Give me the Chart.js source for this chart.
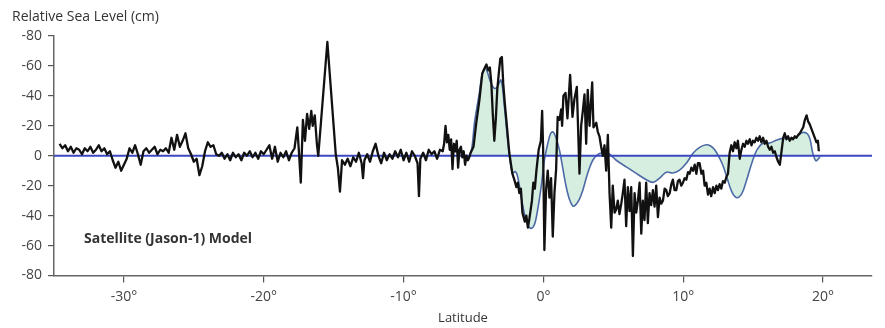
<!DOCTYPE html>
<html>
<head>
<meta charset="utf-8">
<script src="https://cdn.jsdelivr.net/npm/chart.js@4.4.1/dist/chart.umd.min.js"></script>
<style>
  html, body { margin: 0; padding: 0; background: #fff; }
  #wrap { width: 885px; height: 328px; }
</style>
</head>
<body>
<div id="wrap"><canvas id="chart" width="885" height="328"></canvas></div>
<script>
// Axis text
const yTitle = 'Relative Sea Level (cm)';
const xTitle = 'Latitude';
const modelLabel = 'Satellite (Jason-1) Model';
const xTicks = [-30, -20, -10, 0, 10, 20];

// Satellite (black) series: latitude and relative sea level (cm)
const satLat = [
  -34.6, -34.4, -34.2, -34.0, -33.8, -33.6, -33.4, -33.2, -33.0, -32.8, -32.6, -32.4, -32.2, -32.0,
  -31.8, -31.6, -31.4, -31.2, -31.0, -30.8, -30.6, -30.4, -30.2, -30.0, -29.8, -29.6, -29.4, -29.2,
  -29.0, -28.8, -28.6, -28.4, -28.2, -28.0, -27.8, -27.6, -27.4, -27.2, -27.0, -26.8, -26.6, -26.4,
  -26.2, -26.0, -25.8, -25.6, -25.4, -25.2, -25.0, -24.8, -24.6, -24.4, -24.2, -24.0, -23.8, -23.6,
  -23.4, -23.2, -23.0, -22.8, -22.6, -22.4, -22.2, -22.0, -21.8, -21.6, -21.4, -21.2, -21.0, -20.8,
  -20.6, -20.4, -20.2, -20.0, -19.8, -19.6, -19.4, -19.2, -19.0, -18.8, -18.6, -18.4, -18.2, -18.0,
  -17.8, -17.6, -17.5, -17.35, -17.2, -17.05, -16.9, -16.75, -16.6, -16.5, -16.35, -16.2, -16.1,
  -15.45, -14.85, -14.7, -14.55, -14.4, -14.2, -14.0, -13.8, -13.6, -13.4, -13.2, -13.0, -12.9,
  -12.8, -12.6, -12.4, -12.2, -12.0, -11.8, -11.6, -11.4, -11.2, -11.0, -10.8, -10.6, -10.4, -10.2,
  -10.0, -9.8, -9.6, -9.4, -9.2, -9.0, -8.9, -8.8, -8.6, -8.4, -8.2, -8.0, -7.8, -7.6, -7.4, -7.2,
  -7.1, -7.0, -6.9, -6.8, -6.7, -6.6, -6.5, -6.4, -6.3, -6.2, -6.1, -6.0, -5.9, -5.8, -5.7, -5.6,
  -5.5, -5.4, -5.3, -5.2, -5.0, -4.8, -4.58, -4.37, -4.23, -4.08, -3.94, -3.83, -3.72, -3.62, -3.51,
  -3.4, -3.3, -3.19, -3.08, -2.97, -2.87, -2.76, -2.65, -2.44, -2.22, -2.08, -1.93, -1.83, -1.72,
  -1.61, -1.5, -1.33, -1.22, -1.11, -1.0, -0.82, -0.72, -0.61, -0.5, -0.34, -0.18, -0.09, -0.02,
  0.07, 0.19, 0.31, 0.43, 0.55, 0.67, 0.79, 0.91, 1.02, 1.15, 1.27, 1.34, 1.43, 1.58, 1.72, 1.91,
  2.08, 2.22, 2.39, 2.58, 2.7, 2.82, 2.94, 3.06, 3.17, 3.3, 3.49, 3.58, 3.78, 3.89, 4.01, 4.13,
  4.25, 4.37, 4.49, 4.61, 4.73, 4.85, 4.96, 5.09, 5.2, 5.32, 5.44, 5.57, 5.68, 5.8, 5.92, 6.04,
  6.16, 6.28, 6.4, 6.52, 6.64, 6.76, 6.88, 7.0, 7.11, 7.23, 7.35, 7.47, 7.59, 7.71, 7.83, 7.95,
  8.07, 8.19, 8.31, 8.43, 8.55, 8.67, 8.79, 8.9, 9.03, 9.15, 9.26, 9.38, 9.5, 9.62, 9.74, 9.86,
  9.98, 10.1, 10.22, 10.34, 10.46, 10.58, 10.7, 10.82, 10.94, 11.05, 11.17, 11.3, 11.42, 11.53,
  11.65, 11.77, 11.89, 12.0, 12.13, 12.25, 12.37, 12.48, 12.6, 12.72, 12.84, 12.97, 13.09, 13.2,
  13.32, 13.44, 13.56, 13.68, 13.8, 13.91, 14.04, 14.16, 14.28, 14.4, 14.52, 14.63, 14.76, 14.88,
  14.99, 15.11, 15.23, 15.35, 15.47, 15.59, 15.71, 15.83, 15.95, 16.07, 16.19, 16.31, 16.43, 16.55,
  16.67, 16.79, 16.91, 17.03, 17.15, 17.26, 17.38, 17.5, 17.62, 17.74, 17.86, 17.98, 18.1, 18.22,
  18.34, 18.46, 18.58, 18.7, 18.82, 18.93, 19.05, 19.17, 19.29, 19.41, 19.53, 19.63, 19.7
];
const satLevel = [
  8, 5, 7, 3, 6, 2, 5, 4, 1, 5, 3, 6, 2, 4,
  7, 3, 5, 1, 3, -3, -8, -4, -10, -6, -2, 5, 2, 7,
  1, -6, 3, 5, 2, 4, 6, 1, 4, 3, 5, 2, 12, 4,
  14, 6, 10, 15, 5, 1, -4, -2, -13, -7, 3, 9, 6, 7,
  1, 0, 2, -2, 1, -3, 2, -1, 1, -3, 2, 0, 3, -1,
  2, -2, 3, 1, 4, 7, -2, 6, -4, 2, -1, 3, -3, 2,
  5, 19, 5, -18, 24, 10, 28, 18, 30, 20, 27, 8, 0,
  76, 1, -8, -24, -3, -6, -2, -7, -1, -4, 2, -5, -15,
  -3, 1, -4, 3, 8, 0, -5, 2, -3, 1, -2, 3, -1, 4,
  -3, 2, -4, 3, 0, -5, -27, -2, 2, -3, 4, 1, 3, -2, 4, 3,
  8, 20, 9, 14, 4, 11, -9, 8, 3, 10, -8, 4, 6, -1, 3, -6,
  0, -3, -1, 2, 6, 22, 37, 55, 58, 61, 57, 59, 48, 28, 10,
  25, 44, 55, 65, 66, 48, 35, 24, 2, -12, -16, -21, -18, -25,
  -22, -38, -44, -40, -48, -42, -30, -18, -22, -10, 4, 10, 30, 5,
  -63, -23, -10, -28, -15, -54, -25, -9, 26, 24, 31, 20, 40, 42, 25, 54,
  26, 38, 46, -12, 20, 30, 41, 8, 44, 20, 49, 19, 22, 16, 13, 6,
  0, 7, -10, 14, -25, -48, -20, -38, -36, -30, -39, -32, -25, -16, -47, -21,
  -37, -21, -67, -25, -38, -30, -18, -52, -30, -43, -18, -45, -25, -33, -23, -34,
  -20, -41, -28, -32, -30, -22, -23, -27, -25, -19, -16, -23, -23, -17, -16, -20,
  -18, -15, -16, -11, -12, -8, -10, -6, -12, -5, -5, -12, -10, -20,
  -18, -26, -22, -27, -21, -25, -20, -23, -19, -22, -17, -18, -14, -12,
  2, 7, 3, 9, 5, 10, -2, 4, 8, 6, 10, 8, 11, 7,
  10, 9, 12, 10, 13, 9, 12, 8, 10, 6, 4, 6, 2, 3,
  -1, -4, -6, 3, 12, 15, 11, 13, 10, 12, 11, 13, 12, 14,
  15, 17, 19, 24, 27, 23, 21, 18, 15, 12, 9, 10, 3
];

// Model (blue curve, green fill) series
const modelLat = [
  -5.3, -5.12, -4.94, -4.76, -4.58, -4.37, -4.15, -4.01, -3.75, -3.51, -3.3, -3.03, -2.79, -2.56,
  -2.39, -2.2, -2.01, -1.84, -1.6, -1.36, -1.12, -0.88, -0.64, -0.41, -0.16, 0.07, 0.31, 0.5,
  0.67, 0.86, 1.15, 1.38, 1.63, 1.86, 2.1, 2.29, 2.58, 2.82, 3.06, 3.3, 3.53, 3.78, 4.01, 4.37,
  4.73, 5.21, 5.92, 6.64, 7.36, 7.83, 8.31, 8.79, 9.26, 9.74, 10.22, 10.7, 11.17, 11.65, 11.96,
  12.25, 12.61, 12.86, 13.11, 13.47, 13.82, 14.18, 14.54, 14.9, 15.26, 15.69, 16.19, 16.69,
  17.12, 17.62, 18.12, 18.48, 18.84, 19.05, 19.27, 19.48, 19.63, 19.77
];
const modelLevel = [
  0, 5, 21, 32, 42, 55, 58.5, 56, 48.5, 45, 46, 50.5, 33, 10.5,
  -3, -11.5, -10.5, -14, -27, -38.5, -46, -48.5, -46, -36, -20.7, -3, 8, 14.5,
  16, 13, 3.8, -8, -20.7, -29, -33.5, -33, -29, -23, -15, -8, -3, 0, 1.5, 2,
  1, -3, -7.4, -11.8, -16, -17.8, -15, -11, -11.5, -9.6, -5, 1.6, 5.6, 7.3, 6.5,
  4, -1.8, -7, -14, -24, -28, -25.5, -16, -5, 3.8, 8.3, 8.5, 10.5,
  11.6, 11.5, 12.7, 15.4, 15, 11.6, 1.6, -3.3, -2.5, -0.7
];

// Reference level
const zeroLat = [-35, 23.5];
const zeroLevel = [0, 0];

const toPoints = (xs, ys) => xs.map((x, i) => ({ x: x, y: ys[i] }));

const textPlugin = {
    id: 'chartText',
    afterDraw(chart) {
        const ctx = chart.ctx;
        ctx.save();
        ctx.fillStyle = '#333';
        ctx.textBaseline = 'alphabetic';
        ctx.textAlign = 'left';
        ctx.font = '14px "Open Sans"';
        ctx.fillText(yTitle, 12, 21);
        ctx.font = 'bold 14px "Open Sans"';
        ctx.fillText(modelLabel, 84, 243);
        ctx.restore();
    }
};

const ctx = document.getElementById('chart');
new Chart(ctx.getContext('2d'), {
    type: 'line',
    data: {
        datasets: [
            {
                label: 'Satellite',
                data: toPoints(satLat, satLevel),
                borderColor: '#111',
                borderWidth: 2.3,
                borderJoinStyle: 'round',
                pointRadius: 0,
                tension: 0,
                fill: false,
                order: 0
            },
            {
                label: 'Zero',
                data: toPoints(zeroLat, zeroLevel),
                borderColor: '#3a48c0',
                borderWidth: 2,
                pointRadius: 0,
                fill: false,
                order: 1
            },
            {
                label: 'Model',
                data: toPoints(modelLat, modelLevel),
                borderColor: '#4d6aa6',
                borderWidth: 1.6,
                backgroundColor: '#d6eee0',
                pointRadius: 0,
                tension: 0.35,
                fill: { value: 0 },
                order: 2
            }
        ]
    },
    options: {
        responsive: false,
        animation: false,
        layout: { padding: { top: 36, right: 13, left: 0, bottom: 0 } },
        plugins: {
            legend: { display: false },
            tooltip: { enabled: false }
        },
        scales: {
            x: {
                type: 'linear',
                min: -35,
                max: 23.5,
                afterBuildTicks: scale => { scale.ticks = xTicks.map(v => ({ value: v })); },
                afterFit: scale => { scale.height = 52.5; },
                grid: { drawOnChartArea: false, drawTicks: true, tickLength: 7, color: '#555', lineWidth: 1.2 },
                border: { display: true, color: '#666', width: 1.5 },
                ticks: {
                    callback: v => v + '°',
                    font: { family: 'Open Sans', size: 14 },
                    color: '#444',
                    padding: 6,
                    maxRotation: 0,
                    autoSkip: false
                },
                title: {
                    display: true,
                    text: xTitle,
                    font: { family: 'Open Sans', size: 13 },
                    color: '#333',
                    padding: { top: 0, bottom: 2 }
                }
            },
            y: {
                min: -80,
                max: 80,
                afterFit: scale => { scale.width = 54; },
                grid: { drawOnChartArea: false, drawTicks: true, tickLength: 6, color: '#555', lineWidth: 1.2 },
                border: { display: true, color: '#666', width: 1.5 },
                ticks: {
                    stepSize: 20,
                    callback: v => (v === 0 ? '0' : '-' + Math.abs(v)),
                    font: { family: 'Open Sans', size: 14 },
                    color: '#444',
                    padding: 6
                }
            }
        }
    },
    plugins: [textPlugin]
});
</script>
</body>
</html>
